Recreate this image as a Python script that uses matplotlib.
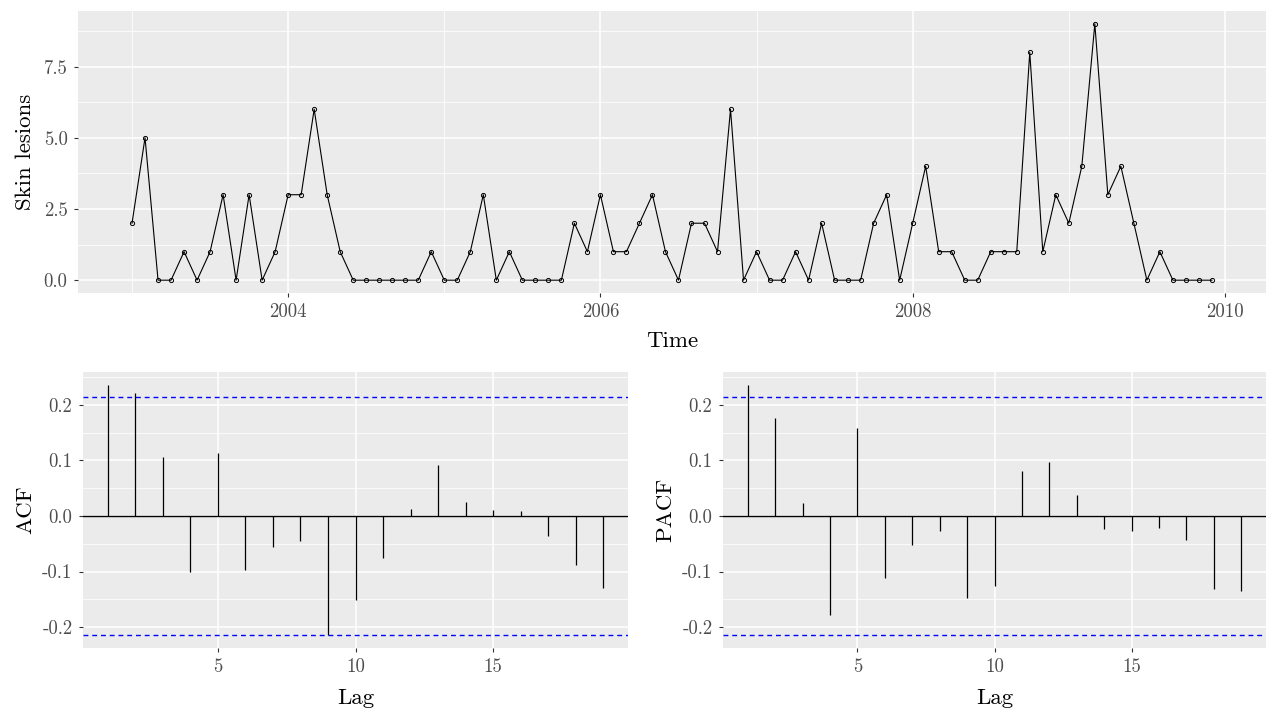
import numpy as np
import matplotlib
matplotlib.use("Agg")
import matplotlib.pyplot as plt
from matplotlib.ticker import FixedLocator

plt.rcParams['font.family'] = ['cmr10', 'DejaVu Serif']
plt.rcParams['axes.formatter.use_mathtext'] = True

# ---- data ----
start_year = 2003
lesions = [
    2, 5, 0, 0, 1, 0, 1, 3, 0, 3, 0, 1,   # 2003
    3, 3, 6, 3, 1, 0, 0, 0, 0, 0, 0, 1,   # 2004
    0, 0, 1, 3, 0, 1, 0, 0, 0, 0, 2, 1,   # 2005
    3, 1, 1, 2, 3, 1, 0, 2, 2, 1, 6, 0,   # 2006
    1, 0, 0, 1, 0, 2, 0, 0, 0, 2, 3, 0,   # 2007
    2, 4, 1, 1, 0, 0, 1, 1, 1, 8, 1, 3,   # 2008
    2, 4, 9, 3, 4, 2, 0, 1, 0, 0, 0, 0,   # 2009
]
lags = list(range(1, 20))
acf_vals = [0.2364, 0.222, 0.1057, -0.1003, 0.1128, -0.0967, -0.0555, -0.0448,
            -0.215, -0.1516, -0.0752, 0.0125, 0.0913, 0.0251, 0.0107, 0.009,
            -0.0358, -0.0878, -0.130]
pacf_vals = [0.2364, 0.177, 0.0233, -0.179, 0.1576, -0.111, -0.052, -0.0269,
             -0.1469, -0.1254, 0.0806, 0.0967, 0.0376, -0.0233, -0.0269, -0.0215,
             -0.0430, -0.1307, -0.1343]
conf_bound = 0.2139

top_xticks = [2004, 2006, 2008, 2010]
top_xminor = [2003, 2005, 2007, 2009]
top_yticks = [0.0, 2.5, 5.0, 7.5]
top_yticklabels = ["0.0", "2.5", "5.0", "7.5"]
top_yminor = [1.25, 3.75, 6.25, 8.75]
lag_ticks = [5, 10, 15]
cf_yticks = [-0.2, -0.1, 0.0, 0.1, 0.2]
cf_yticklabels = ["-0.2", "-0.1", "0.0", "0.1", "0.2"]
cf_yminor = [-0.15, -0.05, 0.05, 0.15, 0.25]

time = [start_year + i / 12 for i in range(len(lesions))]

W, H = 1280, 720
fig = plt.figure(figsize=(W / 100, H / 100), dpi=100)

BG = '#EBEBEB'
TICKC = '#4D4D4D'
TICKFS = 13.5
TITLEFS = 16.5


def rect(l, t, r, b):
    return [l / W, 1 - b / H, (r - l) / W, (b - t) / H]


def style(ax):
    ax.set_facecolor(BG)
    for s in ax.spines.values():
        s.set_visible(False)
    ax.grid(which='major', color='white', linewidth=1.1)
    ax.grid(which='minor', color='white', linewidth=0.55)
    ax.set_axisbelow(True)
    ax.tick_params(which='major', length=2.9, width=0.8, color='#333333',
                   labelcolor=TICKC, labelsize=TICKFS)
    ax.tick_params(axis='x', which='major', pad=4.0)
    ax.tick_params(axis='y', which='major', pad=4.6)
    ax.tick_params(which='minor', length=0)


# ---- top panel ----
ax1 = fig.add_axes(rect(78, 11, 1266, 293))
style(ax1)
ax1.plot(time, lesions, color='black', linewidth=0.8, marker='o', markersize=3.0,
         markerfacecolor='none', markeredgecolor='black', markeredgewidth=0.7)
ax1.set_xlim(2002.654, 2010.263)
ax1.set_ylim(-0.45, 9.45)
ax1.xaxis.set_major_locator(FixedLocator(top_xticks))
ax1.xaxis.set_minor_locator(FixedLocator(top_xminor))
ax1.set_xticklabels([str(t) for t in top_xticks])
ax1.yaxis.set_major_locator(FixedLocator(top_yticks))
ax1.yaxis.set_minor_locator(FixedLocator(top_yminor))
ax1.set_yticklabels(top_yticklabels)
ax1.set_xlabel("Time", fontsize=TITLEFS, color='black')
ax1.set_ylabel("Skin lesions", fontsize=TITLEFS, color='black')
ax1.xaxis.set_label_coords(0.5, (293 - 331) / 282)
ax1.yaxis.set_label_coords((35 - 78) / 1188, 0.5)


def cf_panel(r, vals, label, lab_x):
    ax = fig.add_axes(r)
    style(ax)
    ax.axhline(0, color='black', linewidth=1.0, zorder=2)
    ax.vlines(lags, 0, vals, color='black', linewidth=0.9, zorder=3)
    for yb in (conf_bound, -conf_bound):
        ax.axhline(yb, color='#0000FF', linewidth=1.0, linestyle=(0, (3.5, 2.8)), zorder=3)
    ax.set_xlim(0.1, 19.9)
    ax.set_ylim(-0.2376, 0.259)
    ax.xaxis.set_major_locator(FixedLocator(lag_ticks))
    ax.set_xticklabels([str(t) for t in lag_ticks])
    ax.yaxis.set_major_locator(FixedLocator(cf_yticks))
    ax.yaxis.set_minor_locator(FixedLocator(cf_yminor))
    ax.set_yticklabels(cf_yticklabels)
    ax.set_xlabel("Lag", fontsize=TITLEFS, color='black')
    ax.set_ylabel(label, fontsize=TITLEFS, color='black')
    ax.xaxis.set_label_coords(0.5, (648 - 688) / 276)
    ax.yaxis.set_label_coords(lab_x, 0.5)
    return ax


cf_panel(rect(83, 372, 628, 648), acf_vals, "ACF", (35 - 83) / 545)
cf_panel(rect(723, 372, 1266, 648), pacf_vals, "PACF", (35 - 83) / 545)

fig.savefig("out.png", dpi=100)
